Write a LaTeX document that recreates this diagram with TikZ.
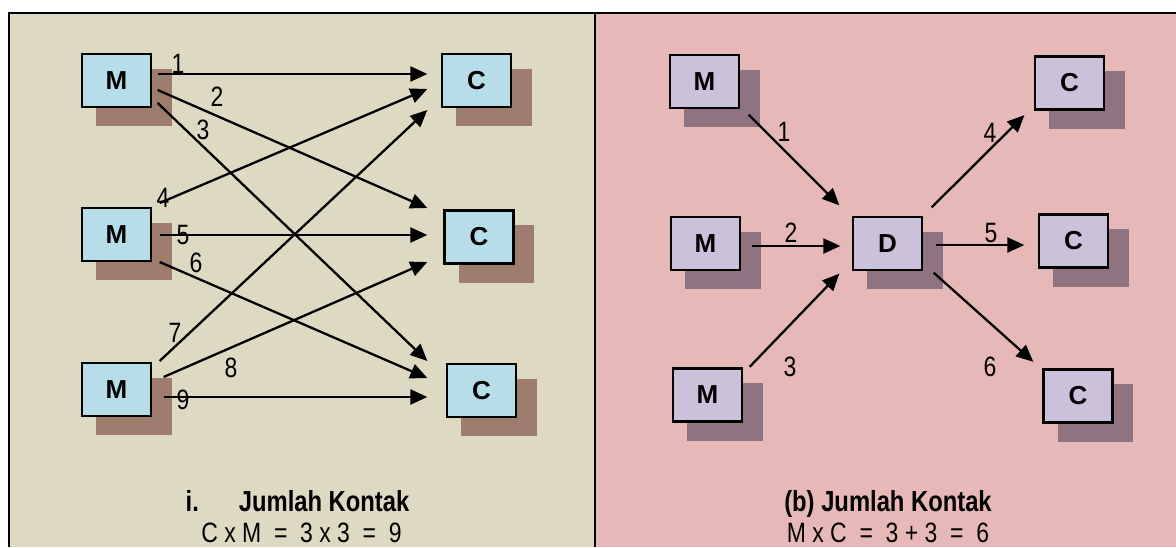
\documentclass[tikz,border=0pt]{standalone}
\usepackage{fontspec}
\setmainfont{Liberation Sans}
\newfontfamily\narrowfont[FakeStretch=0.82]{Liberation Sans}
\usetikzlibrary{arrows.meta,shadows}

\definecolor{panelL}{HTML}{DDD9C3}
\definecolor{panelR}{HTML}{E6B9B8}
\definecolor{boxL}{HTML}{B7DDE8}
\definecolor{boxR}{HTML}{CCC1DA}
\definecolor{shadeL}{RGB}{158,124,110}
\definecolor{shadeR}{RGB}{143,115,128}

\tikzset{
  box/.style={draw, line width=2.3pt, minimum width=69pt, minimum height=53pt,
    inner sep=0pt, font=\fontsize{26}{26}\selectfont\bfseries},
  mcbox/.style={box, fill=boxL,
    general shadow={fill=shadeL, shadow xshift=16pt, shadow yshift=-15.5pt, shadow scale=1.09}},
  dbox/.style={box, fill=boxR,
    general shadow={fill=shadeR, shadow xshift=16pt, shadow yshift=-15.5pt, shadow scale=1.09}},
  num/.style={font=\narrowfont\fontsize{28}{28}\selectfont, inner sep=0pt},
  head/.style={font=\narrowfont\bfseries\fontsize{29}{29}\selectfont, inner sep=0pt, anchor=base},
  sum/.style={font=\narrowfont\fontsize{28}{28}\selectfont, inner sep=0pt, anchor=base},
  conn/.style={line width=2.3pt, -{Triangle[length=17pt,width=15pt]}}
}

\begin{document}
\begin{tikzpicture}[x=1pt, y=-1pt]
  \useasboundingbox (0,0) rectangle (1176,547);
  % panels and frame
  \fill[panelL] (9,13) rectangle (595,547);
  \fill[panelR] (595,13) rectangle (1176,547);
  \draw[line width=1.5pt] (9,547) -- (9,13) -- (1176,13);
  \draw[line width=1.5pt] (595,13) -- (595,547);

  % (i) every M talks to every C
  \node[mcbox] (lm1) at (116.5,80.5) {M};
  \node[mcbox] (lm2) at (116.5,234.5) {M};
  \node[mcbox] (lm3) at (116.5,389.5) {M};
  \node[mcbox] (lc1) at (476.5,80.5) {C};
  \node[mcbox] (lc2) at (479,237) {C};
  \node[mcbox] (lc3) at (481.5,390.5) {C};

  \draw[conn] ([shift={(5.5,-6.5)}]lm1.east) -- ([shift={(-13.5,-6.5)}]lc1.west);
  \draw[conn] ([shift={(5.5,9.5)}]lm1.east) -- ([shift={(-16,-29)}]lc2.west);
  \draw[conn] ([shift={(5.5,22.5)}]lm1.east) -- ([shift={(-18.5,-29.5)}]lc3.west);
  \draw[conn] ([shift={(7.5,-31.5)}]lm2.east) -- ([shift={(-13.5,8.5)}]lc1.west);
  \draw[conn] ([shift={(7.5,0.5)}]lm2.east) -- ([shift={(-16,-2)}]lc2.west);
  \draw[conn] ([shift={(7.5,27.5)}]lm2.east) -- ([shift={(-18.5,-12.5)}]lc3.west);
  \draw[conn] ([shift={(7.5,-28.5)}]lm3.east) -- ([shift={(-13.5,29.5)}]lc1.west);
  \draw[conn] ([shift={(11.5,-12.5)}]lm3.east) -- ([shift={(-16,25)}]lc2.west);
  \draw[conn] ([shift={(11.5,7.5)}]lm3.east) -- ([shift={(-18.5,6.5)}]lc3.west);

  \node[num] (ln1) at (178,63.5) {1};
  \node[num] (ln2) at (217,97) {2};
  \node[num] (ln3) at (203,130) {3};
  \node[num] (ln4) at (163,198) {4};
  \node[num] (ln5) at (183,235) {5};
  \node[num] (ln6) at (196,263) {6};
  \node[num] (ln7) at (175,333) {7};
  \node[num] (ln8) at (231,368) {8};
  \node[num] (ln9) at (183,400) {9};

  \node[head] (lhead) at (297.5,511) {i.\hspace{40pt}Jumlah Kontak};
  \node[sum] (lsum) at (301.5,542) {C x M \ = \ 3 x 3 \ = \ 9};

  % (b) everything goes through D
  \node[dbox] (rm1) at (704.5,81.5) {M};
  \node[dbox] (rm2) at (705.5,243.5) {M};
  \node[dbox] (rm3) at (707.5,395) {M};
  \node[dbox] (rd) at (887.5,243.5) {D};
  \node[dbox] (rc1) at (1069.5,83) {C};
  \node[dbox] (rc2) at (1073.5,241) {C};
  \node[dbox] (rc3) at (1078,396) {C};

  \draw[conn] ([shift={(8.5,5.5)}]rm1.south east) -- ([shift={(-12.5,-10.5)}]rd.north west);
  \draw[conn] ([shift={(10.5,2.5)}]rm2.east) -- ([shift={(-11.5,2.5)}]rd.west);
  \draw[conn] ([shift={(6.5,-0.5)}]rm3.north east) -- ([shift={(-12.5,2.5)}]rd.south west);
  \draw[conn] ([shift={(8.5,-8.5)}]rd.north east) -- ([shift={(-9.5,4.5)}]rc1.south west);
  \draw[conn] ([shift={(12.5,1.5)}]rd.east) -- ([shift={(-13.5,4)}]rc2.west);
  \draw[conn] ([shift={(10.5,1.5)}]rd.south east) -- ([shift={(-9,-6.5)}]rc3.north west);

  \node[num] (rn1) at (784,132) {1};
  \node[num] (rn2) at (791,233) {2};
  \node[num] (rn3) at (790,367) {3};
  \node[num] (rn4) at (990,133) {4};
  \node[num] (rn5) at (991,233) {5};
  \node[num] (rn6) at (990,367) {6};

  \node[head] (rhead) at (888,511) {(b) Jumlah Kontak};
  \node[sum] (rsum) at (888,542) {M x C \ = \ 3 + 3 \ = \ 6};
\end{tikzpicture}
\end{document}
